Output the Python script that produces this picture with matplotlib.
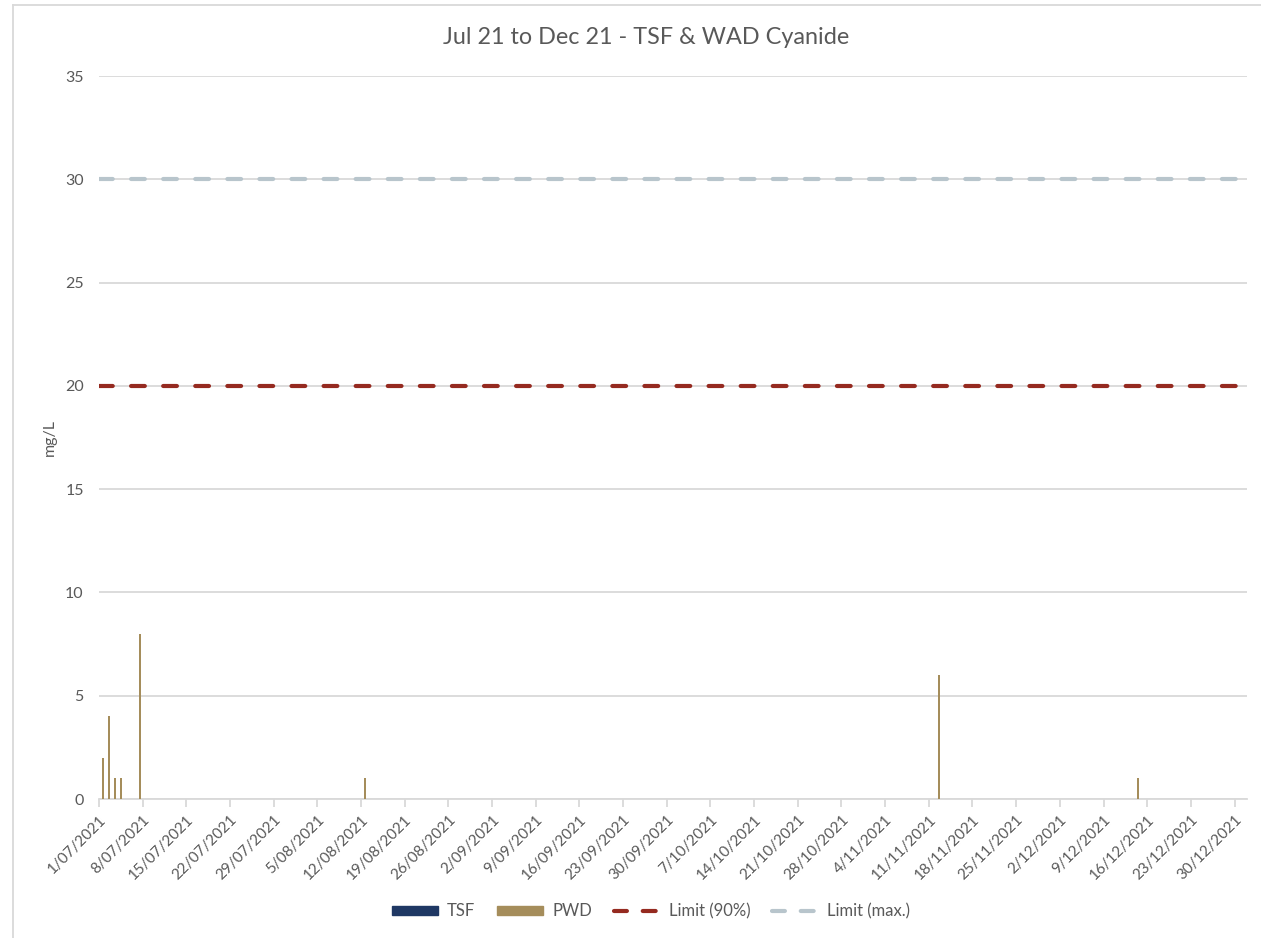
import numpy as np
import pandas as pd
import matplotlib
matplotlib.use("Agg")
import matplotlib.pyplot as plt
import matplotlib.dates as mdates
from matplotlib.patches import Patch
from matplotlib.lines import Line2D

plt.rcParams['font.family'] = ['Lato', 'DejaVu Sans']

# sample dates and results (mg/L)
pwd_dates = ["2021-07-01", "2021-07-02", "2021-07-03", "2021-07-04",
             "2021-07-07", "2021-08-12", "2021-11-12", "2021-12-14"]
pwd_values = [2, 4, 1, 1, 8, 1, 6, 1]
tsf_values = [0, 0, 0, 0, 0, 0, 0, 0]

limit_90 = 20
limit_max = 30

start, end = "2021-07-01", "2022-01-01"

grey_text = "#595959"
grid_col = "#d9d9d9"

fig = plt.figure(figsize=(12.61, 9.38), dpi=100)
ax = fig.add_axes([99 / 1261, 1 - 799 / 938, 1148 / 1261, 723 / 938])

d = pd.to_datetime(pwd_dates)
x = mdates.date2num(d) + 0.6
ax.bar(x, tsf_values, width=0.32, color="#1F3864", zorder=3)
ax.bar(x, pwd_values, width=0.32, color="#A58D5B", zorder=3)

x0, x1 = mdates.date2num(pd.to_datetime([start, end]))
ax.plot([x0, x1], [limit_max, limit_max], color="#B8C5CC", lw=3,
        dashes=(3.3, 4.4), dash_capstyle="round", zorder=4)
ax.plot([x0, x1], [limit_90, limit_90], color="#952A20", lw=3,
        dashes=(3.3, 4.4), dash_capstyle="round", zorder=4)

ax.set_xlim(x0, x1)
ax.set_ylim(0, 35)
ax.set_yticks(np.arange(0, 36, 5))
ax.yaxis.grid(True, color=grid_col, lw=1.3)
ax.set_axisbelow(True)

ticks = pd.date_range("2021-07-01", "2021-12-30", freq="7D")
ax.set_xticks(mdates.date2num(ticks))
ax.set_xticklabels([f"{t.day}/{t.month:02d}/{t.year}" for t in ticks],
                   rotation=45, ha="right", rotation_mode="anchor")

for s in ["top", "right", "left"]:
    ax.spines[s].set_visible(False)
ax.spines["bottom"].set_color(grid_col)
ax.spines["bottom"].set_linewidth(1.3)
ax.tick_params(axis="x", colors=grid_col, length=6, width=1.3, labelcolor=grey_text,
               labelsize=11, pad=4)
ax.tick_params(axis="y", length=0, labelcolor=grey_text, labelsize=11.5, pad=11)

ax.set_ylabel("mg/L", color=grey_text, fontsize=11.5, labelpad=6)
fig.text(0.5 + 16 / 1261, 1 - 38 / 938, "Jul 21 to Dec 21 - TSF & WAD Cyanide",
         ha="center", va="center", fontsize=16.8, color=grey_text)

# chart border
fig.add_artist(Line2D([13 / 1261, 13 / 1261], [0, 1 - 5 / 938], color=grid_col, lw=1.3,
                      transform=fig.transFigure))
fig.add_artist(Line2D([13 / 1261, 1], [1 - 5 / 938, 1 - 5 / 938], color=grid_col, lw=1.3,
                      transform=fig.transFigure))

handles = [
    Patch(color="#1F3864", label="TSF"),
    Patch(color="#A58D5B", label="PWD"),
    Line2D([], [], color="#952A20", lw=3, dashes=(3.1, 3.8), dash_capstyle="round",
           label="Limit (90%)"),
    Line2D([], [], color="#B8C5CC", lw=3, dashes=(3.1, 3.8), dash_capstyle="round",
           label="Limit (max.)"),
]
leg = fig.legend(handles=handles, loc="center", bbox_to_anchor=(651 / 1261, 1 - 911 / 938),
                 ncol=4, frameon=False, fontsize=12, handlelength=2.75, handleheight=0.45,
                 handletextpad=0.55, columnspacing=1.3)
for t in leg.get_texts():
    t.set_color(grey_text)

fig.savefig("out.png", dpi=100)
